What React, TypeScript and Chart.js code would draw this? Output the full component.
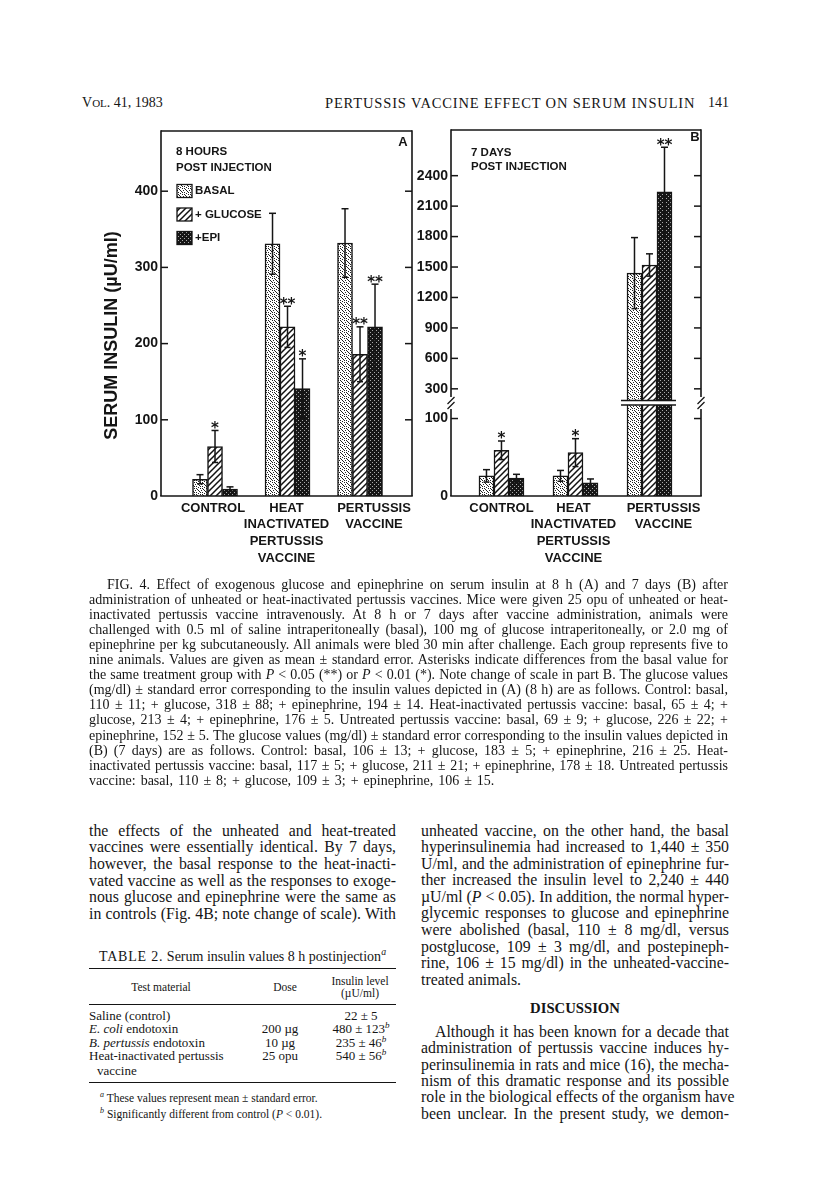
import React, { useEffect, useRef } from 'react';
import { Chart, registerables, LinearScale } from 'chart.js';

Chart.register(...registerables);

// ---------------- data ----------------
const seriesNames = ['BASAL', '+ GLUCOSE', '+EPI'];
const categoryLabels = [['CONTROL'], ['HEAT', 'INACTIVATED', 'PERTUSSIS', 'VACCINE'], ['PERTUSSIS', 'VACCINE']];

// Panel A: 8 hours post injection (µU/ml)
const basalA = [22, 331, 332];
const basalErrA = [6, 40, 45];
const glucoseA = [65, 222, 186];
const glucoseErrA = [21, 27, 36];
const epiA = [9, 141, 222];
const epiErrA = [3, 39, 56];
const basalSigA = ['', '', ''];
const glucoseSigA = ['*', '**', '**'];
const epiSigA = ['', '*', '**'];
const ticksA = [0, 100, 200, 300, 400];

// Panel B: 7 days post injection (µU/ml)
const basalB = [26, 26, 1440];
const basalErrB = [8, 7, 350];
const glucoseB = [59, 56, 1520];
const glucoseErrB = [12, 18, 110];
const epiB = [23, 17, 2240];
const epiErrB = [5, 5, 440];
const basalSigB = ['', '', ''];
const glucoseSigB = ['*', '*', ''];
const epiSigB = ['', '', '**'];
const ticksB = [0, 100, 300, 600, 900, 1200, 1500, 1800, 2100, 2400];

// ---------------- styles ----------------
const INK = '#151515';
const SANS = '"Liberation Sans", Arial, sans-serif';
const DJ = '"DejaVu Sans", sans-serif';
const SERIF = '"Liberation Serif", "Times New Roman", serif';

// scale with a break between a lower and an upper segment
class BrokenLinearScale extends LinearScale {
  static id = 'brokenLinear';
  static defaults = {};
  getPixelForValue(value: number): number {
    const b = (this.options as any).brk;
    const h = this.bottom - this.top;
    const hb = h * b.fraction;
    if (value <= b.low) return this.bottom - ((value - this.min) / (b.low - this.min)) * hb;
    return this.bottom - hb - ((value - b.high) / (this.max - b.high)) * (h - hb);
  }
  getValueForPixel(pixel: number): number {
    const b = (this.options as any).brk;
    const h = this.bottom - this.top;
    const hb = h * b.fraction;
    const d = this.bottom - pixel;
    if (d <= hb) return this.min + (d / hb) * (b.low - this.min);
    return b.high + ((d - hb) / (h - hb)) * (this.max - b.high);
  }
}
Chart.register(BrokenLinearScale as any);

function makePatterns(): CanvasPattern[] {
  const mk = (w: number, h: number, draw: (c: CanvasRenderingContext2D) => void) => {
    const cv = document.createElement('canvas');
    cv.width = w;
    cv.height = h;
    const c = cv.getContext('2d')!;
    draw(c);
    return c.createPattern(cv, 'repeat')!;
  };
  const stipple = mk(6, 6, (c) => {
    c.fillStyle = '#fff';
    c.fillRect(0, 0, 6, 6);
    c.fillStyle = '#222';
    [[0, 0], [3, 1], [1, 2], [5, 3], [2, 4], [4, 5], [0, 4], [4, 2], [2, 0]].forEach(([x, y]) => c.fillRect(x, y, 1, 1));
  });
  const hatch = mk(6, 6, (c) => {
    c.fillStyle = '#fff';
    c.fillRect(0, 0, 6, 6);
    c.strokeStyle = '#111';
    c.lineWidth = 1.5;
    c.beginPath();
    c.moveTo(0, 6); c.lineTo(6, 0);
    c.moveTo(-3, 3); c.lineTo(3, -3);
    c.moveTo(3, 9); c.lineTo(9, 3);
    c.stroke();
  });
  const dark = mk(4, 4, (c) => {
    c.fillStyle = '#161616';
    c.fillRect(0, 0, 4, 4);
    c.fillStyle = '#aaa';
    c.fillRect(0, 0, 1, 1);
    c.fillRect(2, 2, 1, 1);
  });
  return [stipple, hatch, dark];
}

type PanelDef = {
  letter: string;
  values: number[][];
  errors: number[][];
  sig: string[][];
  ticks: number[];
  yMax: number;
  xMin: number;
  xMax: number;
  axisWidth: number;
  padding: { left: number; top: number; right: number; bottom: number };
  titleLines: string[];
  titlePos: [number, number, number];
  legend: boolean;
  yTitle: string;
  labelNudge: number[];
  letterPos: [number, number];
  brk?: { low: number; high: number; fraction: number; index: number };
};

const panelA: PanelDef = {
  letter: 'A',
  values: [basalA, glucoseA, epiA],
  errors: [basalErrA, glucoseErrA, epiErrA],
  sig: [basalSigA, glucoseSigA, epiSigA],
  ticks: ticksA,
  yMax: 479,
  xMin: 0.255,
  xMax: 3.717,
  axisWidth: 81,
  padding: { left: 0, top: 21, right: 8, bottom: 84 },
  titleLines: ['8 HOURS', 'POST INJECTION'],
  titlePos: [15, 21, 16],
  legend: true,
  yTitle: 'SERUM INSULIN (µU/ml)',
  labelNudge: [-2, -1, 14],
  letterPos: [-9, 11],
};

const panelB: PanelDef = {
  letter: 'B',
  values: [basalB, glucoseB, epiB],
  errors: [basalErrB, glucoseErrB, epiErrB],
  sig: [basalSigB, glucoseSigB, epiSigB],
  ticks: ticksB,
  yMax: 2850,
  xMin: 0.318,
  xMax: 3.696,
  axisWidth: 41,
  padding: { left: 0, top: 20, right: 19, bottom: 84 },
  titleLines: ['7 DAYS', 'POST INJECTION'],
  titlePos: [20, 23, 14],
  legend: false,
  yTitle: '',
  labelNudge: [0, -2, 14],
  letterPos: [-6, 7],
  brk: { low: 120, high: 160, fraction: 0.254, index: 2 },
};

function seg(ctx: CanvasRenderingContext2D, x0: number, y0: number, x1: number, y1: number) {
  ctx.beginPath();
  ctx.moveTo(x0, y0);
  ctx.lineTo(x1, y1);
  ctx.stroke();
}

function makePlugin(p: PanelDef, patterns: CanvasPattern[]) {
  return {
    id: 'decor' + p.letter,
    afterDatasetsDraw(chart: any) {
      const ctx: CanvasRenderingContext2D = chart.ctx;
      const ys = chart.scales.y;
      ctx.save();
      ctx.strokeStyle = INK;
      ctx.fillStyle = INK;
      if (p.brk) {
        const by = ys.getPixelForValue(p.brk.low);
        const first = chart.getDatasetMeta(0).data[p.brk.index];
        const last = chart.getDatasetMeta(p.values.length - 1).data[p.brk.index];
        const x0 = first.x - first.width / 2 - 6;
        const x1 = last.x + last.width / 2 + 4;
        ctx.fillStyle = '#fff';
        ctx.fillRect(x0, by - 2, x1 - x0, 4);
        ctx.lineWidth = 1.4;
        seg(ctx, x0, by - 2.5, x1, by - 2.5);
        seg(ctx, x0, by + 2, x1, by + 2);
      }
      ctx.fillStyle = INK;
      ctx.lineWidth = 1.5;
      ctx.font = 'bold 15px ' + DJ;
      ctx.textAlign = 'center';
      ctx.textBaseline = 'alphabetic';
      p.values.forEach((vals, d) => {
        const meta = chart.getDatasetMeta(d);
        vals.forEach((v, i) => {
          const el = meta.data[i];
          const e = p.errors[d][i];
          const yt = ys.getPixelForValue(v + e);
          const yb = ys.getPixelForValue(v - e);
          seg(ctx, el.x, yb, el.x, yt);
          seg(ctx, el.x - 3.5, yt, el.x + 3.5, yt);
          seg(ctx, el.x - 3, yb, el.x + 3, yb);
          const s = p.sig[d][i];
          if (s) ctx.fillText(s, el.x, yt + 2.5);
        });
      });
      ctx.restore();
    },
    afterDraw(chart: any) {
      const ctx: CanvasRenderingContext2D = chart.ctx;
      const a = chart.chartArea;
      const ys = chart.scales.y;
      const xs = chart.scales.x;
      ctx.save();
      ctx.strokeStyle = INK;
      ctx.fillStyle = INK;
      ctx.lineWidth = 1.6;
      // frame
      seg(ctx, a.left, a.top, a.right, a.top);
      seg(ctx, a.left - 0.8, a.bottom, a.right + 0.8, a.bottom);
      if (p.brk) {
        const by = ys.getPixelForValue(p.brk.low);
        [a.left, a.right].forEach((x) => {
          seg(ctx, x, a.top - 0.8, x, by - 6);
          seg(ctx, x, by + 6, x, a.bottom);
          ctx.lineWidth = 1.3;
          seg(ctx, x - 3.5, by + 1, x + 3.5, by - 6);
          seg(ctx, x - 3.5, by + 6, x + 3.5, by - 1);
          ctx.lineWidth = 1.6;
        });
      } else {
        seg(ctx, a.left, a.top - 0.8, a.left, a.bottom);
        seg(ctx, a.right, a.top - 0.8, a.right, a.bottom);
      }
      // inward tick marks on both sides
      ctx.lineWidth = 1.5;
      ys.ticks.forEach((t: any) => {
        if (t.value === 0) return;
        const yy = ys.getPixelForValue(t.value);
        seg(ctx, a.left, yy, a.left + 7, yy);
        seg(ctx, a.right - 7, yy, a.right, yy);
      });
      // category labels
      ctx.font = 'bold 13px ' + SANS;
      ctx.textAlign = 'center';
      ctx.textBaseline = 'middle';
      categoryLabels.forEach((lines, i) => {
        const x = xs.getPixelForValue(i + 1) + p.labelNudge[i];
        lines.forEach((ln, k) => ctx.fillText(ln, x, a.bottom + 12 + 16.8 * k));
      });
      // panel letter
      ctx.font = 'bold 13px ' + SANS;
      ctx.fillText(p.letter, a.right + p.letterPos[0], a.top + p.letterPos[1]);
      // inside title
      ctx.textAlign = 'left';
      ctx.font = 'bold 11.5px ' + SANS;
      p.titleLines.forEach((ln, k) => ctx.fillText(ln, a.left + p.titlePos[0], a.top + p.titlePos[1] + p.titlePos[2] * k));
      // legend
      if (p.legend) {
        const lx = a.left + 16;
        seriesNames.forEach((name, k) => {
          const cy = a.top + 60 + 23.5 * k;
          ctx.fillStyle = patterns[k];
          ctx.fillRect(lx, cy - 6.5, 15, 13);
          ctx.fillStyle = INK;
          ctx.lineWidth = 1.3;
          ctx.strokeRect(lx, cy - 6.5, 15, 13);
          ctx.fillText(name, lx + 18, cy);
        });
      }
      // y axis title
      if (p.yTitle) {
        ctx.save();
        ctx.translate(a.left - 49, (a.top + a.bottom) / 2 + 22);
        ctx.rotate(-Math.PI / 2);
        ctx.textAlign = 'center';
        ctx.font = 'bold 18px ' + SANS;
        ctx.fillText(p.yTitle, 0, 0);
        ctx.restore();
      }
      ctx.restore();
    },
  };
}

function Panel({ p, left, top, width, height }: { p: PanelDef; left: number; top: number; width: number; height: number }) {
  const ref = useRef<HTMLCanvasElement>(null);
  useEffect(() => {
    const patterns = makePatterns();
    const chart = new Chart(ref.current as HTMLCanvasElement, {
      type: 'bar',
      data: {
        datasets: p.values.map((vals, d) => ({
          label: seriesNames[d],
          data: vals.map((v, i) => ({ x: i + 1, y: v })),
          backgroundColor: patterns[d],
          borderColor: INK,
          borderWidth: 1.5,
          barThickness: 15,
        })),
      } as any,
      options: {
        animation: false,
        responsive: false,
        devicePixelRatio: 1,
        layout: { padding: p.padding },
        plugins: { legend: { display: false }, tooltip: { enabled: false }, title: { display: false } },
        scales: {
          x: { type: 'linear', min: p.xMin, max: p.xMax, display: false, offset: false },
          y: {
            type: p.brk ? 'brokenLinear' : 'linear',
            min: 0,
            max: p.yMax,
            brk: p.brk,
            afterBuildTicks: (s: any) => {
              s.ticks = p.ticks.map((v) => ({ value: v }));
            },
            afterFit: (s: any) => {
              s.width = p.axisWidth;
            },
            grid: { display: false, drawTicks: false },
            border: { display: false },
            ticks: {
              autoSkip: false,
              padding: 3,
              color: INK,
              font: { family: SANS, size: 14, weight: 'bold' },
              callback: (v: any) => String(v),
            },
          },
        } as any,
      },
      plugins: [makePlugin(p, patterns)],
    });
    return () => chart.destroy();
  }, []);
  return (
    <div style={{ position: 'absolute', left, top, width, height }}>
      <canvas ref={ref} width={width} height={height} style={{ display: 'block' }} />
    </div>
  );
}

// ---------------- page text ----------------
const captionLines: React.ReactNode[] = [
  'FIG. 4. Effect of exogenous glucose and epinephrine on serum insulin at 8 h (A) and 7 days (B) after',
  'administration of unheated or heat-inactivated pertussis vaccines. Mice were given 25 opu of unheated or heat-',
  'inactivated pertussis vaccine intravenously. At 8 h or 7 days after vaccine administration, animals were',
  'challenged with 0.5 ml of saline intraperitoneally (basal), 100 mg of glucose intraperitoneally, or 2.0 mg of',
  'epinephrine per kg subcutaneously. All animals were bled 30 min after challenge. Each group represents five to',
  'nine animals. Values are given as mean ± standard error. Asterisks indicate differences from the basal value for',
  <>the same treatment group with <i>P</i> &lt; 0.05 (**) or <i>P</i> &lt; 0.01 (*). Note change of scale in part B. The glucose values</>,
  '(mg/dl) ± standard error corresponding to the insulin values depicted in (A) (8 h) are as follows. Control: basal,',
  '110 ± 11; + glucose, 318 ± 88; + epinephrine, 194 ± 14. Heat-inactivated pertussis vaccine: basal, 65 ± 4; +',
  'glucose, 213 ± 4; + epinephrine, 176 ± 5. Untreated pertussis vaccine: basal, 69 ± 9; + glucose, 226 ± 22; +',
  'epinephrine, 152 ± 5. The glucose values (mg/dl) ± standard error corresponding to the insulin values depicted in',
  '(B) (7 days) are as follows. Control: basal, 106 ± 13; + glucose, 183 ± 5; + epinephrine, 216 ± 25. Heat-',
  'inactivated pertussis vaccine: basal, 117 ± 5; + glucose, 211 ± 21; + epinephrine, 178 ± 18. Untreated pertussis',
  'vaccine: basal, 110 ± 8; + glucose, 109 ± 3; + epinephrine, 106 ± 15.',
];

const leftCol: React.ReactNode[] = [
  'the effects of the unheated and heat-treated',
  'vaccines were essentially identical. By 7 days,',
  'however, the basal response to the heat-inacti-',
  'vated vaccine as well as the responses to exoge-',
  'nous glucose and epinephrine were the same as',
  'in controls (Fig. 4B; note change of scale). With',
];

const rightCol: React.ReactNode[] = [
  'unheated vaccine, on the other hand, the basal',
  'hyperinsulinemia had increased to 1,440 ± 350',
  'U/ml, and the administration of epinephrine fur-',
  'ther increased the insulin level to 2,240 ± 440',
  <>µU/ml (<i>P</i> &lt; 0.05). In addition, the normal hyper-</>,
  'glycemic responses to glucose and epinephrine',
  'were abolished (basal, 110 ± 8 mg/dl, versus',
  'postglucose, 109 ± 3 mg/dl, and postepineph-',
  'rine, 106 ± 15 mg/dl) in the unheated-vaccine-',
  'treated animals.',
];

const discussion: React.ReactNode[] = [
  'Although it has been known for a decade that',
  'administration of pertussis vaccine induces hy-',
  'perinsulinemia in rats and mice (16), the mecha-',
  'nism of this dramatic response and its possible',
  'role in the biological effects of the organism have',
  'been unclear. In the present study, we demon-',
];

const tableRows: [React.ReactNode, string, string][] = [
  ['Saline (control)', '', '22 ± 5'],
  [<><i>E. coli</i> endotoxin</>, '200 µg', '480 ± 123'],
  [<><i>B. pertussis</i> endotoxin</>, '10 µg', '235 ± 46'],
  ['Heat-inactivated pertussis', '25 opu', '540 ± 56'],
];
const tableSig = ['', 'b', 'b', 'b'];

function TLine({ x, cy, w, size, lh, justify, indent, children, style }: any) {
  return (
    <div
      style={{
        position: 'absolute',
        left: x,
        top: cy - lh / 2,
        width: w,
        height: lh,
        lineHeight: lh + 'px',
        fontSize: size,
        whiteSpace: 'nowrap',
        textAlign: justify ? 'justify' : 'left',
        textAlignLast: justify ? 'justify' : 'left',
        paddingLeft: indent || 0,
        boxSizing: 'border-box',
        ...style,
      }}
    >
      {children}
    </div>
  );
}

const sup = (t: string) => (
  <sup style={{ fontSize: '0.7em', lineHeight: 0, fontStyle: 'italic' }}>{t}</sup>
);

export default function App() {
  return (
    <div
      style={{
        position: 'absolute',
        left: 0,
        top: 0,
        width: 816,
        height: 1199,
        background: '#fff',
        color: INK,
        fontFamily: SERIF,
        overflow: 'hidden',
      }}
    >
      {/* running head */}
      <TLine x={82} cy={103} w={200} size={14} lh={16}>
        V<span style={{ fontSize: 11 }}>OL</span>. 41, 1983
      </TLine>
      <TLine x={325} cy={103} w={380} size={14.5} lh={16} style={{ letterSpacing: 0.85 }}>
        PERTUSSIS VACCINE EFFECT ON SERUM INSULIN
      </TLine>
      <TLine x={700} cy={103} w={29} size={14} lh={16} style={{ textAlign: 'right', textAlignLast: 'right' }}>
        141
      </TLine>

      <Panel p={panelA} left={80} top={110} width={340} height={470} />
      <Panel p={panelB} left={410} top={110} width={310} height={470} />

      {captionLines.map((ln, i) => (
        <TLine
          key={'c' + i}
          x={89}
          cy={584 + 15.1 * i}
          w={639}
          size={14}
          lh={15}
          justify={i < captionLines.length - 1}
          indent={i === 0 ? 18 : 0}
          style={i === captionLines.length - 1 ? { wordSpacing: 1.5 } : undefined}
        >
          {ln}
        </TLine>
      ))}

      {leftCol.map((ln, i) => (
        <TLine key={'l' + i} x={89} cy={831 + 16.6 * i} w={307} size={15.8} lh={16.6} justify>
          {ln}
        </TLine>
      ))}

      {rightCol.map((ln, i) => (
        <TLine key={'r' + i} x={421} cy={831 + 16.55 * i} w={308} size={15.8} lh={16.6} justify={i < rightCol.length - 1}>
          {ln}
        </TLine>
      ))}
      <TLine x={421} cy={1008} w={308} size={14.7} lh={16} style={{ textAlign: 'center', textAlignLast: 'center', fontWeight: 'bold' }}>
        DISCUSSION
      </TLine>
      {discussion.map((ln, i) => (
        <TLine key={'d' + i} x={421} cy={1032 + 16.4 * i} w={308} size={15.8} lh={16.6} justify indent={i === 0 ? 14 : 0}>
          {ln}
        </TLine>
      ))}

      {/* Table 2 */}
      <TLine x={89} cy={957} w={307} size={14} lh={16} style={{ textAlign: 'center', textAlignLast: 'center' }}>
        <span style={{ letterSpacing: 0.8 }}>TABLE 2.</span> Serum insulin values 8 h postinjection{sup('a')}
      </TLine>
      <div style={{ position: 'absolute', left: 89, top: 968, width: 307, borderTop: '1.5px solid ' + INK }} />
      <TLine x={100} cy={987} w={122} size={11.5} lh={13} style={{ textAlign: 'center', textAlignLast: 'center' }}>
        Test material
      </TLine>
      <TLine x={255} cy={987} w={60} size={11.5} lh={13} style={{ textAlign: 'center', textAlignLast: 'center' }}>
        Dose
      </TLine>
      <TLine x={325} cy={981} w={70} size={11.5} lh={13} style={{ textAlign: 'center', textAlignLast: 'center' }}>
        Insulin level
      </TLine>
      <TLine x={325} cy={993} w={70} size={11.5} lh={13} style={{ textAlign: 'center', textAlignLast: 'center' }}>
        (µU/ml)
      </TLine>
      <div style={{ position: 'absolute', left: 89, top: 1004, width: 307, borderTop: '1px solid ' + INK }} />
      {tableRows.map((r, i) => (
        <React.Fragment key={'t' + i}>
          <TLine x={89} cy={1016 + 13.4 * i} w={170} size={13} lh={14}>
            {r[0]}
          </TLine>
          <TLine x={250} cy={1016 + 13.4 * i} w={60} size={13} lh={14} style={{ textAlign: 'center', textAlignLast: 'center' }}>
            {r[1]}
          </TLine>
          <TLine x={326} cy={1016 + 13.4 * i} w={70} size={13} lh={14} style={{ textAlign: 'center', textAlignLast: 'center' }}>
            {r[2]}
            {tableSig[i] ? sup(tableSig[i]) : null}
          </TLine>
        </React.Fragment>
      ))}
      <TLine x={89} cy={1071} w={170} size={13} lh={14} indent={8}>
        vaccine
      </TLine>
      <div style={{ position: 'absolute', left: 89, top: 1082, width: 307, borderTop: '1px solid ' + INK }} />
      <TLine x={100} cy={1098} w={296} size={11.5} lh={14}>
        {sup('a')} These values represent mean ± standard error.
      </TLine>
      <TLine x={100} cy={1114} w={296} size={11.5} lh={14}>
        {sup('b')} Significantly different from control (<i>P</i> &lt; 0.01).
      </TLine>
    </div>
  );
}
